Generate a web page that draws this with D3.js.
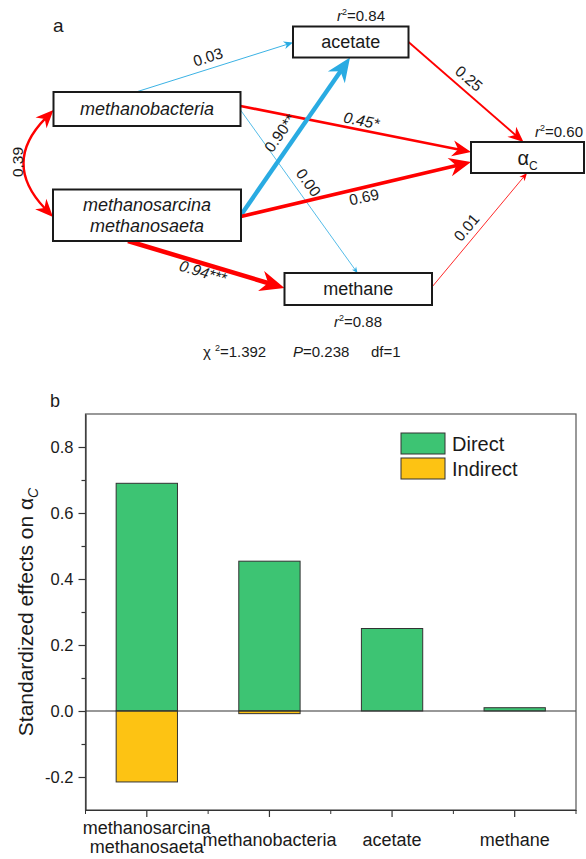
<!DOCTYPE html>
<html>
<head>
<meta charset="utf-8">
<script src="https://cdn.jsdelivr.net/npm/d3@7"></script>
<style>
  body { margin: 0; background: #fff; }
  svg { font-family: Arial, "Liberation Sans", sans-serif; }
</style>
</head>
<body>
<div id="divChart"></div>
<script>
// ---- data: path model (panel a) ----
var nodeLabels = [['methanobacteria'], ['methanosarcina', 'methanosaeta'], ['acetate'], ['α'], ['methane']]
var nodeItalic = [true, true, false, false, false]
var nodeR2 = ['', '', '0.84', '0.60', '0.88']

var pathFrom = [0, 0, 0, 1, 1, 1, 2, 4]
var pathTo = [2, 3, 4, 2, 3, 4, 3, 3]
var pathCoef = [0.03, 0.45, 0.00, 0.90, 0.69, 0.94, 0.25, 0.01]
var pathStars = ['', '*', '', '**', '', '***', '', '']
var pathSign = ['neg', 'pos', 'neg', 'neg', 'pos', 'pos', 'pos', 'pos']
var covCoef = 0.39
var fitChi2 = '1.392'
var fitP = '0.238'
var fitDf = '1'

// ---- data: standardized effects (panel b) ----
var categories = ['methanosarcina methanosaeta', 'methanobacteria', 'acetate', 'methane']
var categoryLines = [['methanosarcina', 'methanosaeta'], ['methanobacteria'], ['acetate'], ['methane']]
var directEffects = [0.69, 0.454, 0.25, 0.01]
var indirectEffects = [-0.215, -0.008, 0, 0]
var yTicks = [-0.2, 0, 0.2, 0.4, 0.6, 0.8]
var yMinorTicks = [-0.1, 0.1, 0.3, 0.5, 0.7]
var legendNames = ['Direct', 'Indirect']

// ---- layout ----
var globalSettings = {
  width: 586,
  height: 859,
  red: '#ff0000',
  blue: '#29abe2',
  green: '#3dc473',
  yellow: '#fdc313',
  ink: '#1a1a1a'
}

var diagram = {
  boxes: [
    { x: 53.5, y: 92, w: 187, h: 34 },
    { x: 53, y: 189.5, w: 188, h: 51.5 },
    { x: 293, y: 26.5, w: 115.5, h: 31 },
    { x: 471, y: 142, w: 113, h: 31 },
    { x: 284.5, y: 273, w: 147.5, h: 32 }
  ],
  r2Pos: [null, null, [361, 21], [559, 137], [358, 327]],
  // start / end anchors of every path
  ends: [
    [[136, 92], [293, 42.5]],
    [[240.5, 106], [471, 152]],
    [[240.5, 110], [357.5, 273]],
    [[241, 215], [350, 57.5]],
    [[241, 216.5], [471, 162]],
    [[128, 241], [284.5, 288]],
    [[408.5, 42], [523.5, 142]],
    [[432, 287], [527, 173]]
  ],
  labelPos: [
    [208, 57, -17.5],
    [361.5, 120.5, 11.3],
    [308.5, 182.5, 54],
    [280, 133, -55],
    [364, 197, -12.5],
    [203, 272, 16.5],
    [469, 78.5, 41],
    [466.5, 227.5, -50]
  ],
  cov: { p0: [53, 217], c: [2, 163], p2: [53.5, 110], label: [18, 162] }
}

var chart = { left: 85.5, right: 576, top: 414, bottom: 810 }

var svg = d3.select('#divChart')
  .append('svg')
  .attr('width', globalSettings.width)
  .attr('height', globalSettings.height)

// widths and head sizes scale with the path coefficient
var widthScale = d3.scaleLinear().domain([0, 1]).range([0.8, 4.8])
var headScale = d3.scaleSqrt().domain([0, 1]).range([6, 25])

function headPath (len) {
  var hw = len * 0.43
  return 'M0,0L' + (-len) + ',' + (-hw) + 'L' + (-len * 0.7) + ',0L' + (-len) + ',' + hw + 'Z'
}

function drawPathModel () {
  var g = svg.append('g').attr('id', 'g-model')

  g.append('text').attr('x', 53).attr('y', 32).attr('font-size', 19).attr('fill', globalSettings.ink).text('a')

  // straight paths
  var edges = pathCoef.map(function (c, i) {
    return { coef: c, stars: pathStars[i], sign: pathSign[i], ends: diagram.ends[i], label: diagram.labelPos[i] }
  })

  var gEdges = g.append('g').attr('id', 'g-edges')
  edges.forEach(function (e) {
    var p0 = e.ends[0]
    var p1 = e.ends[1]
    var dx = p1[0] - p0[0]
    var dy = p1[1] - p0[1]
    var dist = Math.sqrt(dx * dx + dy * dy)
    var len = headScale(e.coef)
    var col = e.sign === 'pos' ? globalSettings.red : globalSettings.blue
    var back = (len * 0.7 - 0.5) / dist
    gEdges.append('line')
      .attr('x1', p0[0]).attr('y1', p0[1])
      .attr('x2', p1[0] - dx * back).attr('y2', p1[1] - dy * back)
      .attr('stroke', col)
      .attr('stroke-width', widthScale(e.coef))
    gEdges.append('path')
      .attr('d', headPath(len))
      .attr('fill', col)
      .attr('transform', 'translate(' + p1[0] + ',' + p1[1] + ') rotate(' + (Math.atan2(dy, dx) * 180 / Math.PI) + ')')
  })
  // labels on top of all lines
  edges.forEach(function (e) {
    gEdges.append('text')
      .attr('transform', 'translate(' + e.label[0] + ',' + e.label[1] + ') rotate(' + e.label[2] + ')')
      .attr('text-anchor', 'middle')
      .attr('dy', '0.35em')
      .attr('font-size', 15.5)
      .attr('font-style', e.stars === '*' || e.stars === '***' ? 'italic' : 'normal')
      .attr('fill', globalSettings.ink)
      .text(e.coef.toFixed(2) + e.stars)
  })

  // covariance curve with two heads
  var cv = diagram.cov
  var cLen = headScale(covCoef)
  function inward (p, c, d) {
    var vx = c[0] - p[0]
    var vy = c[1] - p[1]
    var n = Math.sqrt(vx * vx + vy * vy)
    return [p[0] + vx / n * d, p[1] + vy / n * d]
  }
  var s0 = inward(cv.p0, cv.c, cLen * 0.7 - 0.5)
  var s2 = inward(cv.p2, cv.c, cLen * 0.7 - 0.5)
  var curve = d3.path()
  curve.moveTo(s0[0], s0[1])
  curve.quadraticCurveTo(cv.c[0], cv.c[1], s2[0], s2[1])
  gEdges.append('path')
    .attr('d', curve.toString())
    .attr('fill', 'none')
    .attr('stroke', globalSettings.red)
    .attr('stroke-width', widthScale(covCoef))
  ;[cv.p0, cv.p2].forEach(function (p) {
    var ang = Math.atan2(p[1] - cv.c[1], p[0] - cv.c[0]) * 180 / Math.PI
    gEdges.append('path')
      .attr('d', headPath(cLen))
      .attr('fill', globalSettings.red)
      .attr('transform', 'translate(' + p[0] + ',' + p[1] + ') rotate(' + ang + ')')
  })
  gEdges.append('text')
    .attr('transform', 'translate(' + cv.label[0] + ',' + cv.label[1] + ') rotate(-90)')
    .attr('text-anchor', 'middle')
    .attr('dy', '0.35em')
    .attr('font-size', 15.5)
    .attr('fill', globalSettings.ink)
    .text(covCoef.toFixed(2))

  // boxes
  var gNodes = g.append('g').attr('id', 'g-nodes')
  nodeLabels.forEach(function (lines, i) {
    var b = diagram.boxes[i]
    gNodes.append('rect')
      .attr('x', b.x).attr('y', b.y).attr('width', b.w).attr('height', b.h)
      .attr('fill', '#fff')
      .attr('stroke', globalSettings.ink)
      .attr('stroke-width', 2)
    var cx = b.x + b.w / 2
    var cy = b.y + b.h / 2
    lines.forEach(function (line, j) {
      var t = gNodes.append('text')
        .attr('x', cx)
        .attr('y', cy + (j - (lines.length - 1) / 2) * 21)
        .attr('dy', '0.36em')
        .attr('text-anchor', 'middle')
        .attr('font-size', i === 3 ? 20 : 18)
        .attr('font-style', nodeItalic[i] ? 'italic' : 'normal')
        .attr('fill', globalSettings.ink)
      t.append('tspan').text(line)
      if (i === 3) {
        t.append('tspan').attr('font-size', 12).attr('dy', 5).text('C')
      }
    })
    if (nodeR2[i]) {
      var rp = diagram.r2Pos[i]
      var r = gNodes.append('text')
        .attr('x', rp[0]).attr('y', rp[1])
        .attr('text-anchor', 'middle')
        .attr('font-size', 15)
        .attr('fill', globalSettings.ink)
      r.append('tspan').attr('font-style', 'italic').text('r')
      r.append('tspan').attr('font-size', 9).attr('dy', -6).text('2')
      r.append('tspan').attr('dy', 6).text('=' + nodeR2[i])
    }
  })

  // fit statistics
  var gFit = g.append('g').attr('id', 'g-fit').attr('font-size', 15).attr('fill', globalSettings.ink)
  var t1 = gFit.append('text').attr('x', 203).attr('y', 357)
  t1.append('tspan').text('χ')
  t1.append('tspan').attr('font-size', 9).attr('dx', 4).attr('dy', -6).text('2')
  t1.append('tspan').attr('dy', 6).text('=' + fitChi2)
  var t2 = gFit.append('text').attr('x', 293).attr('y', 357)
  t2.append('tspan').attr('font-style', 'italic').text('P')
  t2.append('tspan').text('=' + fitP)
  gFit.append('text').attr('x', 371).attr('y', 357).text('df=' + fitDf)
}

function drawEffects () {
  var g = svg.append('g').attr('id', 'g-effects')
  var x = d3.scaleBand().domain(categories).range([chart.left, chart.right]).paddingInner(0.5).paddingOuter(0.25)
  var y = d3.scaleLinear().domain([-0.3, 0.9]).range([chart.bottom, chart.top])

  g.append('text').attr('x', 50).attr('y', 407).attr('font-size', 18).attr('fill', globalSettings.ink).text('b')

  // bars
  var rows = categories.map(function (c, i) {
    return { cat: c, direct: directEffects[i], indirect: indirectEffects[i] }
  })
  g.append('g').selectAll('rect')
    .data(rows.filter(function (d) { return d.direct !== 0 }))
    .enter()
    .append('rect')
    .attr('x', function (d) { return x(d.cat) })
    .attr('width', x.bandwidth())
    .attr('y', function (d) { return y(Math.max(0, d.direct)) })
    .attr('height', function (d) { return Math.abs(y(d.direct) - y(0)) })
    .attr('fill', globalSettings.green)
    .attr('stroke', '#333')
    .attr('stroke-width', 1)
  g.append('g').selectAll('rect')
    .data(rows.filter(function (d) { return d.indirect !== 0 }))
    .enter()
    .append('rect')
    .attr('x', function (d) { return x(d.cat) })
    .attr('width', x.bandwidth())
    .attr('y', function (d) { return y(Math.max(0, d.indirect)) })
    .attr('height', function (d) { return Math.abs(y(d.indirect) - y(0)) })
    .attr('fill', globalSettings.yellow)
    .attr('stroke', '#333')
    .attr('stroke-width', 1)

  // zero line and frame
  g.append('line')
    .attr('x1', chart.left).attr('x2', chart.right)
    .attr('y1', y(0)).attr('y2', y(0))
    .attr('stroke', '#333').attr('stroke-width', 1.2)
  g.append('rect')
    .attr('x', chart.left).attr('y', chart.top)
    .attr('width', chart.right - chart.left).attr('height', chart.bottom - chart.top)
    .attr('fill', 'none').attr('stroke', '#555').attr('stroke-width', 1.2)

  // y axis
  var yAxis = d3.axisLeft(y).tickValues(yTicks).tickSize(7).tickSizeOuter(0).tickPadding(5)
    .tickFormat(function (d) { return d.toFixed(1) })
  var gy = g.append('g').attr('transform', 'translate(' + chart.left + ',0)').call(yAxis)
  g.append('g').attr('transform', 'translate(' + chart.left + ',0)')
    .call(d3.axisLeft(y).tickValues(yMinorTicks).tickSize(4).tickSizeOuter(0).tickFormat(''))
    .select('.domain').remove()
  gy.selectAll('text').attr('font-size', 16.5).attr('fill', globalSettings.ink).attr('font-family', null)

  // x axis: major at centres, minor at band boundaries
  g.append('g').attr('transform', 'translate(0,' + chart.bottom + ')')
    .call(d3.axisBottom(x).tickSize(7).tickSizeOuter(0).tickFormat(''))
  var step = x.step()
  var bounds = d3.range(categories.length + 1).map(function (i) { return chart.left + i * step })
  g.append('g').selectAll('line')
    .data(bounds)
    .enter()
    .append('line')
    .attr('x1', function (d) { return d }).attr('x2', function (d) { return d })
    .attr('y1', chart.bottom).attr('y2', chart.bottom + 4)
    .attr('stroke', '#333')
  g.selectAll('.domain, .tick line').attr('stroke', '#333').attr('stroke-width', 1.2)

  categoryLines.forEach(function (lines, i) {
    var cx = x(categories[i]) + x.bandwidth() / 2
    lines.forEach(function (line, j) {
      g.append('text')
        .attr('x', cx)
        .attr('y', 846 - (lines.length - 1) * 12 + j * 19)
        .attr('text-anchor', 'middle')
        .attr('font-size', 18)
        .attr('fill', globalSettings.ink)
        .text(line)
    })
  })

  // y label
  var yl = g.append('text')
    .attr('transform', 'translate(33,' + ((chart.top + chart.bottom) / 2) + ') rotate(-90)')
    .attr('text-anchor', 'middle')
    .attr('font-size', 21)
    .attr('fill', globalSettings.ink)
  yl.append('tspan').text('Standardized effects on α')
  yl.append('tspan').attr('font-size', 14).attr('font-style', 'italic').attr('dy', 5).text('C')

  // legend
  var legendColors = [globalSettings.green, globalSettings.yellow]
  var gl = g.append('g').attr('id', 'g-legend')
  legendNames.forEach(function (name, i) {
    gl.append('rect')
      .attr('x', 401).attr('y', 433 + i * 25)
      .attr('width', 44).attr('height', 21)
      .attr('fill', legendColors[i]).attr('stroke', '#333')
    gl.append('text')
      .attr('x', 452).attr('y', 451 + i * 25)
      .attr('font-size', 20)
      .attr('fill', globalSettings.ink)
      .text(name)
  })
}

drawPathModel()
drawEffects()
</script>
</body>
</html>
